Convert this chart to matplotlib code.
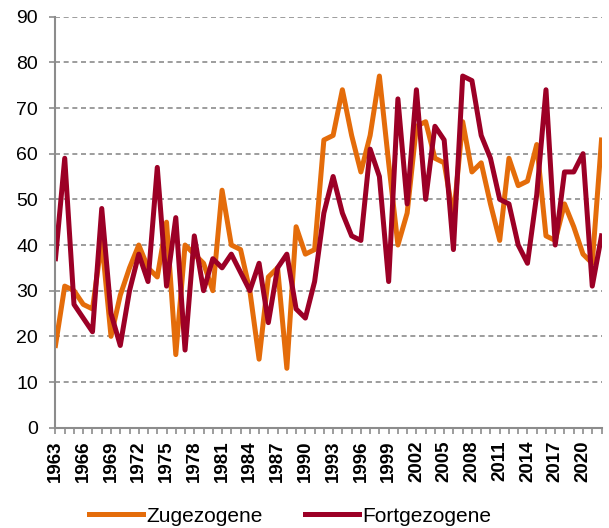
import matplotlib
matplotlib.use("Agg")
from matplotlib import pyplot as plt
from matplotlib import ticker
import numpy as np

plt.rcParams['font.family'] = ['Liberation Sans', 'DejaVu Sans']

years = np.arange(1963, 2023)

# Zugezogene (orange)
zugezogene = [18, 31, 30, 27, 26, 41, 20, 29, 35, 40,
              35, 33, 45, 16, 40, 38, 36, 30, 52, 40,
              39, 30, 15, 33, 35, 13, 44, 38, 39, 63,
              64, 74, 64, 56, 64, 77, 58, 40, 47, 66,
              67, 59, 58, 46, 67, 56, 58, 49, 41, 59,
              53, 54, 62, 42, 41, 49, 44, 38, 36, 63]

# Fortgezogene (dark red)
fortgezogene = [37, 59, 27, 24, 21, 48, 25, 18, 30, 38,
                32, 57, 31, 46, 17, 42, 30, 37, 35, 38,
                34, 30, 36, 23, 35, 38, 26, 24, 32, 47,
                55, 47, 42, 41, 61, 55, 32, 72, 49, 74,
                50, 66, 63, 39, 77, 76, 64, 59, 50, 49,
                40, 36, 51, 74, 40, 56, 56, 60, 31, 42]

labels = ["Zugezogene", "Fortgezogene"]
colors = ["#e46c0a", "#9c0026"]
grey = "#8c8c8c"

fig = plt.figure(figsize=(6.09, 5.28), dpi=100)
ax = fig.add_axes([0.0911, 0.19, 0.8966, 0.7784])

ax.plot(years, zugezogene, color=colors[0], lw=3.6, solid_joinstyle='round', label=labels[0])
ax.plot(years, fortgezogene, color=colors[1], lw=3.6, solid_joinstyle='round', label=labels[1])

ax.set_xlim(1963, 2022)
ax.set_ylim(0, 90)
ax.yaxis.set_major_locator(ticker.MultipleLocator(10))
ax.xaxis.set_major_locator(ticker.FixedLocator(np.arange(1963, 2021, 3)))
ax.xaxis.set_minor_locator(ticker.MultipleLocator(1))

ax.grid(axis='y', color=grey, lw=1.2, linestyle=(0, (3, 2.2)))
ax.set_axisbelow(True)

for side in ['top', 'right']:
    ax.spines[side].set_visible(False)
for side in ['left', 'bottom']:
    ax.spines[side].set_color(grey)
    ax.spines[side].set_linewidth(1.5)

ax.tick_params(axis='y', direction='out', length=4.5, width=1.2, color=grey,
               labelsize=14, pad=8)
ax.tick_params(axis='x', which='both', direction='out', length=4, width=1.2, color=grey)
ax.tick_params(axis='x', which='major', labelsize=13.5, labelrotation=90, pad=5)
for lab in ax.get_xticklabels():
    lab.set_fontweight('bold')

fig.legend(loc='center', bbox_to_anchor=(290 / 609, 1 - 516 / 528), ncol=2, frameon=False,
           fontsize=15, handlelength=2.6, handletextpad=0.15, columnspacing=2.0)

plt.savefig("out.png", dpi=100)
